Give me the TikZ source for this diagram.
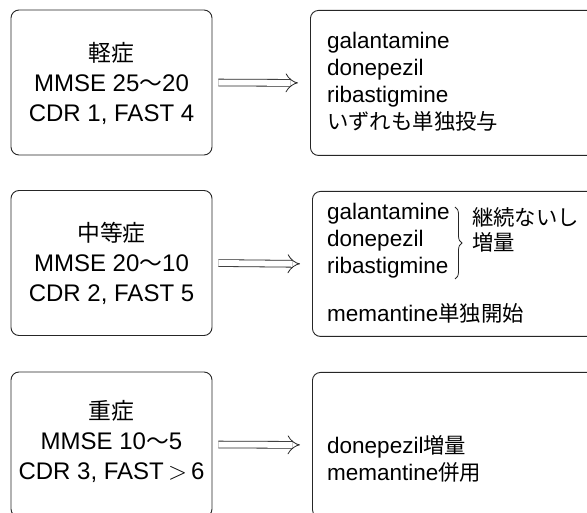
\documentclass[tikz,border=0pt]{standalone}
\usepackage{fontspec}
\setmainfont{Liberation Sans}
\newfontfamily\jp[Scale=0.95]{Noto Sans CJK JP}
\usetikzlibrary{arrows.meta,decorations.pathreplacing}
\begin{document}
\begin{tikzpicture}[x=1pt,y=-1pt,
  lbox/.style={draw=black!85, line width=0.9pt, rounded corners=8pt, minimum width=201pt, minimum height=145pt, inner sep=0pt},
  rbox/.style={draw=black!85, line width=0.9pt, rounded corners=8pt, minimum width=300pt, minimum height=145pt, inner sep=0pt, anchor=north west},
  ltxt/.style={font=\fontsize{24}{30}\selectfont, align=center, inner sep=0pt},
  rtxt/.style={font=\fontsize{22.5}{27}\selectfont, align=left, inner sep=0pt, anchor=west},
  harrow/.style={draw=black!85, line width=0.8pt, double, double distance=6pt, -{Implies}, shorten <=6pt, shorten >=12pt},
  bracestyle/.style={draw=black!85, line width=0.8pt, decorate, decoration={brace, amplitude=7pt}}
]
\useasboundingbox (0,0) rectangle (587,513);
\clip (0,0) rectangle (587,513);

% row 1
\node[lbox] (L1) at (111.5,82.5) {};
\node[ltxt] (L1t) at (111.5,83) {{\jp 軽症}\\MMSE 25{\jp ～}20\\CDR 1, FAST 4};
\node[rbox] (R1) at (310,10) {};
\node[rtxt] (R1t) at (327,82) {galantamine\\donepezil\\ribastigmine\\{\jp いずれも単独投与}};
\draw[harrow] (L1.east) -- (R1.west);

% row 2
\node[lbox] (L2) at (111.5,263) {};
\node[ltxt] (L2t) at (111.5,263) {{\jp 中等症}\\MMSE 20{\jp ～}10\\CDR 2, FAST 5};
\node[rbox] (R2) at (312,191) {};
\node[rtxt] (R2t) at (327,241) {galantamine\\donepezil\\ribastigmine};
\node[rtxt] (R2m) at (327,313) {memantine{\jp 単独開始}};
\coordinate (B2a) at (455,207);
\coordinate (B2b) at (455,279);
\draw[bracestyle] (B2a) -- (B2b);
\node[rtxt, font=\fontsize{22.5}{25}\selectfont] (R2j) at (472,230) {{\jp 継続ないし}\\{\jp 増量}};
\draw[harrow] (L2.east) -- (R2.west);

% row 3
\node[lbox] (L3) at (111.5,444.5) {};
\node[ltxt] (L3t) at (111.5,441) {{\jp 重症}\\MMSE 10{\jp ～}5\\CDR 3, FAST$\,{>}\,$6};
\node[rbox] (R3) at (312,372) {};
\node[rtxt] (R3t) at (327,458.5) {donepezil{\jp 増量}\\memantine{\jp 併用}};
\draw[harrow] (L3.east) -- (R3.west);
\end{tikzpicture}
\end{document}
